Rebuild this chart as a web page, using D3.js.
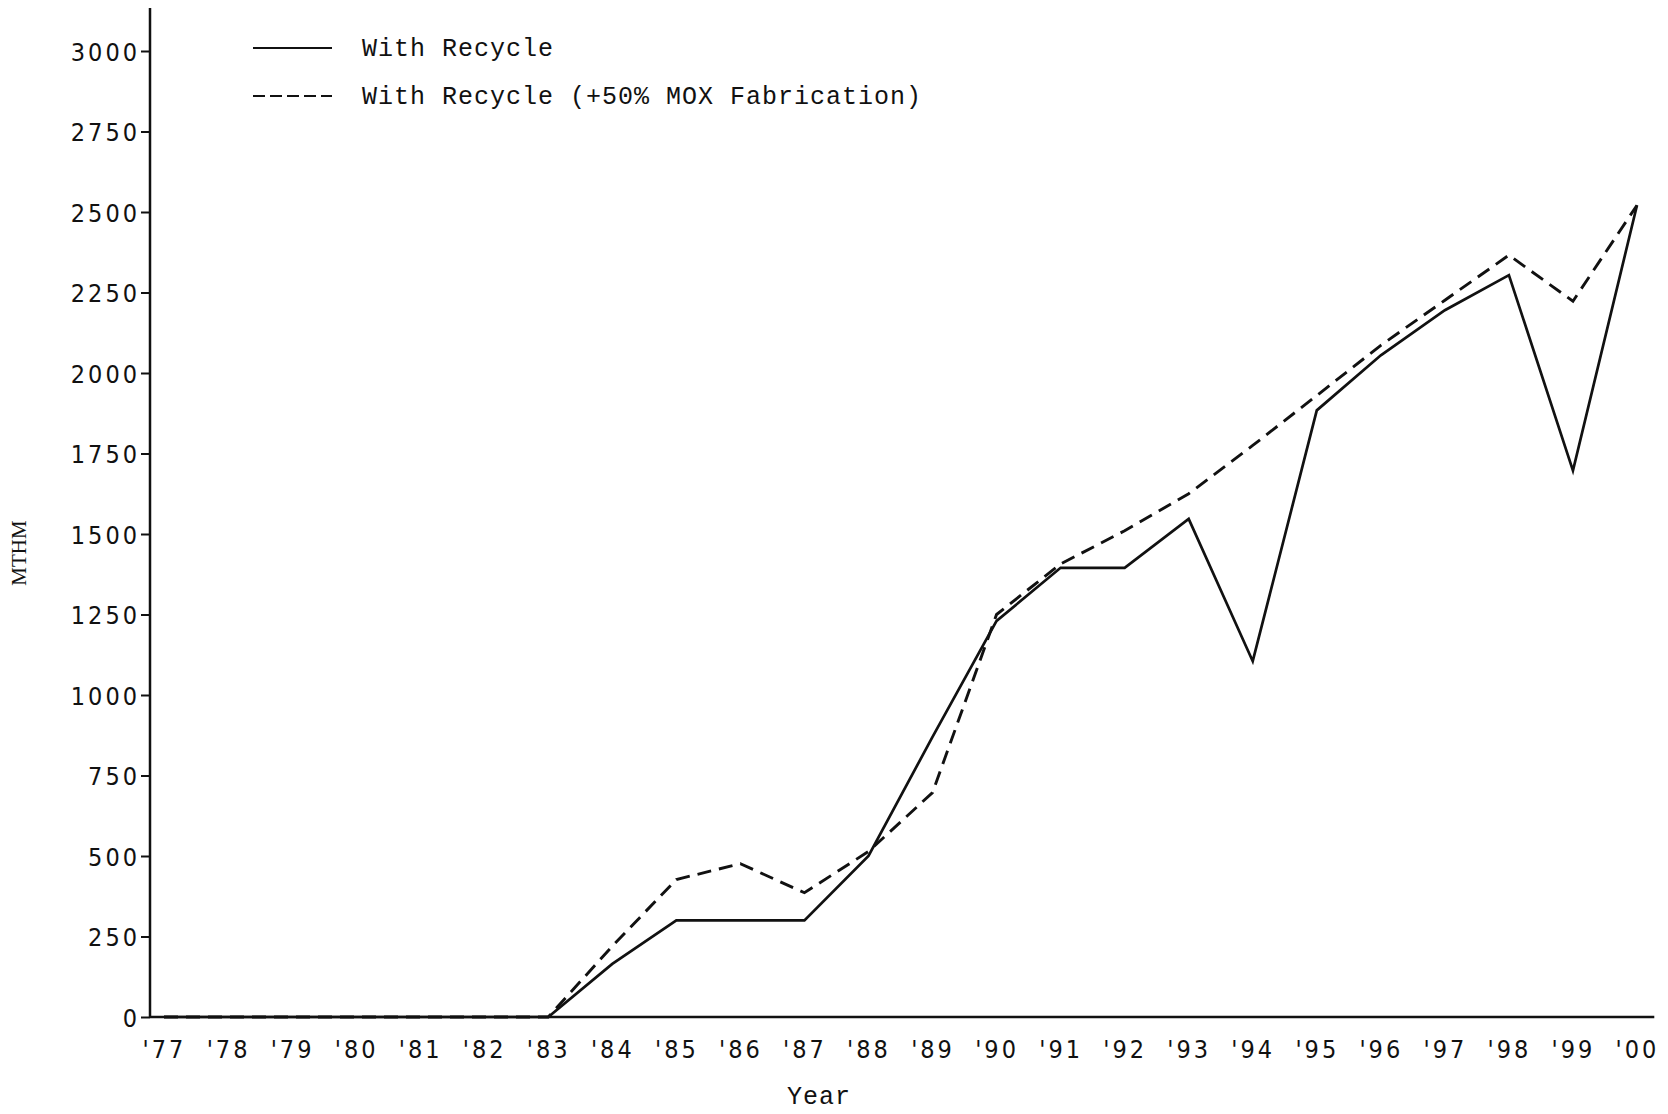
<!DOCTYPE html>
<html>
<head>
<meta charset="utf-8">
<script src="https://cdn.jsdelivr.net/npm/d3@7"></script>
<style>
  html, body { margin: 0; padding: 0; background: #fff; }
  svg { display: block; }
  .tick-label { font-family: "Liberation Sans Narrow", "DejaVu Sans Condensed", sans-serif; font-size: 25px; letter-spacing: 3px; fill: #111; }
  .typed { font-family: "Liberation Mono", "DejaVu Sans Mono", monospace; font-size: 25px; letter-spacing: 1px; fill: #111; }
</style>
</head>
<body>
<div id="chart"></div>
<script>
// chart values
const years = [1977, 1978, 1979, 1980, 1981, 1982, 1983, 1984, 1985, 1986, 1987, 1988,
               1989, 1990, 1991, 1992, 1993, 1994, 1995, 1996, 1997, 1998, 1999, 2000];
const yearLabels = ["'77", "'78", "'79", "'80", "'81", "'82", "'83", "'84", "'85", "'86", "'87", "'88",
                    "'89", "'90", "'91", "'92", "'93", "'94", "'95", "'96", "'97", "'98", "'99", "'00"];
const withRecycle = [0, 0, 0, 0, 0, 0, 0, 165, 300, 300, 300, 500,
                     870, 1230, 1395, 1395, 1547, 1105, 1884, 2055, 2195, 2304, 1697, 2521];
const withRecycleMox = [0, 0, 0, 0, 0, 0, 0, 220, 427, 476, 386, 514,
                        697, 1250, 1407, 1510, 1625, 1775, 1930, 2086, 2226, 2366, 2223, 2521];
const yTicks = [0, 250, 500, 750, 1000, 1250, 1500, 1750, 2000, 2250, 2500, 2750, 3000];
const seriesNames = ["With Recycle", "With Recycle (+50% MOX Fabrication)"];

document.addEventListener('DOMContentLoaded', function() {
    const width = 1668, height = 1114;
    const axisX = 150;      // where the vertical axis sits
    const axisTop = 8;

    const svg = d3.select('#chart').append('svg')
        .attr('width', width)
        .attr('height', height);

    const x = d3.scaleLinear().domain([1977, 2000]).range([164, 1637]);
    const y = d3.scaleLinear().domain([0, 3000]).range([1017, 51]);

    // y axis with little dash ticks on the left
    const yAxis = svg.append('g')
        .attr('transform', `translate(${axisX},0)`)
        .call(d3.axisLeft(y).tickValues(yTicks).tickSize(9).tickPadding(1).tickFormat(d3.format('d')));
    yAxis.select('.domain').remove();
    yAxis.selectAll('.tick line').attr('stroke', '#111').attr('stroke-width', 2);
    yAxis.selectAll('.tick text')
        .attr('class', 'tick-label')
        .attr('font-family', null)
        .attr('font-size', null)
        .attr('dy', '0.36em');

    svg.append('line')
        .attr('x1', axisX).attr('x2', axisX)
        .attr('y1', axisTop).attr('y2', y(0) + 1)
        .attr('stroke', '#111').attr('stroke-width', 2.5);

    // x axis: baseline and year labels, no ticks
    const xAxis = svg.append('g')
        .attr('transform', `translate(0,${y(0)})`)
        .call(d3.axisBottom(x).tickValues(years).tickSize(0).tickPadding(23)
            .tickFormat((d, i) => yearLabels[i]));
    xAxis.select('.domain').remove();
    xAxis.selectAll('.tick text')
        .attr('class', 'tick-label')
        .attr('font-family', null)
        .attr('font-size', null);

    svg.append('line')
        .attr('x1', axisX).attr('x2', x(2000.27))
        .attr('y1', y(0)).attr('y2', y(0))
        .attr('stroke', '#111').attr('stroke-width', 2.5);

    // axis titles
    svg.append('text')
        .attr('class', 'typed')
        .attr('x', 819).attr('y', 1104)
        .attr('text-anchor', 'middle')
        .text('Year');

    svg.append('text')
        .attr('transform', 'translate(26,553) rotate(-90)')
        .attr('text-anchor', 'middle')
        .attr('font-family', '"Liberation Serif", "DejaVu Serif", serif')
        .attr('font-size', 21)
        .attr('fill', '#111')
        .text('MTHM');

    // series lines
    const line = d3.line()
        .x(d => x(d[0]))
        .y(d => y(d[1]));

    svg.append('path')
        .datum(years.map((yr, i) => [yr, withRecycleMox[i]]))
        .attr('d', line)
        .attr('fill', 'none')
        .attr('stroke', '#111')
        .attr('stroke-width', 2.9)
        .attr('stroke-dasharray', '14,8');

    svg.append('path')
        .datum(years.map((yr, i) => [yr, withRecycle[i]]))
        .attr('d', line)
        .attr('fill', 'none')
        .attr('stroke', '#111')
        .attr('stroke-width', 2.7);

    // legend
    const legend = svg.append('g');
    const legendRows = [
        { name: seriesNames[0], dash: null, y: 48 },
        { name: seriesNames[1], dash: '12,5', y: 96 }
    ];
    legendRows.forEach(r => {
        legend.append('line')
            .attr('x1', 253).attr('x2', 332)
            .attr('y1', r.y).attr('y2', r.y)
            .attr('stroke', '#111')
            .attr('stroke-width', 2)
            .attr('stroke-dasharray', r.dash);
        legend.append('text')
            .attr('class', 'typed')
            .attr('x', 362).attr('y', r.y + 8)
            .text(r.name);
    });
});
</script>
</body>
</html>
